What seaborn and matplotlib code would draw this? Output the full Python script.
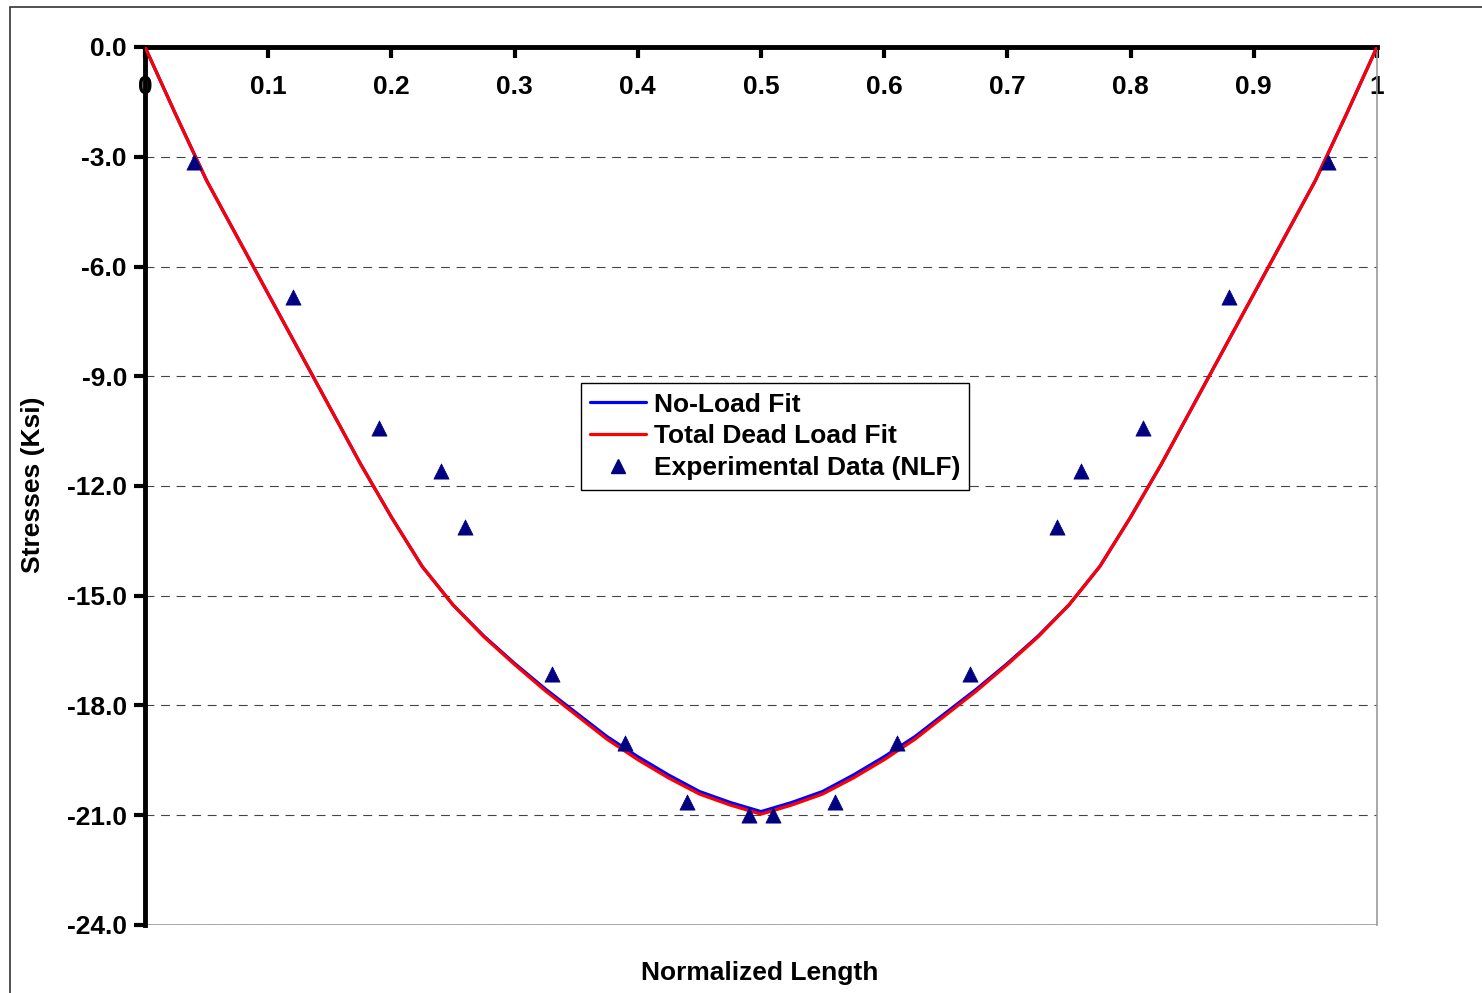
import numpy as np
import pandas as pd
import matplotlib
matplotlib.use("Agg")
import matplotlib.pyplot as plt
from matplotlib.patches import Rectangle
from matplotlib.lines import Line2D
import seaborn as sns

# ---- data ----
fit_x = [0.0, 0.025, 0.05, 0.075, 0.1, 0.125, 0.15, 0.175, 0.2, 0.225, 0.25,
         0.275, 0.3, 0.325, 0.35, 0.375, 0.4, 0.425, 0.45, 0.475, 0.5,
         0.525, 0.55, 0.575, 0.6, 0.625, 0.65, 0.675, 0.7, 0.725, 0.75,
         0.775, 0.8, 0.825, 0.85, 0.875, 0.9, 0.925, 0.95, 0.975, 1.0]
no_load_fit = [0.0, -1.85, -3.65, -5.2, -6.75, -8.3, -9.85, -11.4, -12.85, -14.2, -15.25,
               -16.1, -16.85, -17.55, -18.2, -18.85, -19.4, -19.9, -20.35, -20.65, -20.9,
               -20.65, -20.35, -19.9, -19.4, -18.85, -18.2, -17.55, -16.85, -16.1, -15.25,
               -14.2, -12.85, -11.4, -9.85, -8.3, -6.75, -5.2, -3.65, -1.85, 0.0]
dead_load_fit = [0.0, -1.85, -3.65, -5.2, -6.75, -8.3, -9.85, -11.4, -12.85, -14.2, -15.25,
                 -16.12, -16.88, -17.6, -18.26, -18.92, -19.48, -19.98, -20.42, -20.72, -20.97,
                 -20.72, -20.42, -19.98, -19.48, -18.92, -18.26, -17.6, -16.88, -16.12, -15.25,
                 -14.2, -12.85, -11.4, -9.85, -8.3, -6.75, -5.2, -3.65, -1.85, 0.0]
exp_x = [0.04, 0.12, 0.19, 0.24, 0.26, 0.33, 0.39, 0.44, 0.49,
         0.51, 0.56, 0.61, 0.67, 0.74, 0.76, 0.81, 0.88, 0.96]
exp_y = [-3.14, -6.83, -10.42, -11.59, -13.12, -17.14, -19.03, -20.64, -21.0,
         -21.0, -20.64, -19.03, -17.14, -13.12, -11.59, -10.42, -6.83, -3.14]
x_ticks = [0, 0.1, 0.2, 0.3, 0.4, 0.5, 0.6, 0.7, 0.8, 0.9, 1]
x_ticklabels = ["0", "0.1", "0.2", "0.3", "0.4", "0.5", "0.6", "0.7", "0.8", "0.9", "1"]
y_ticks = [0.0, -3.0, -6.0, -9.0, -12.0, -15.0, -18.0, -21.0, -24.0]

sns.set_style("white")
plt.rcParams['font.family'] = ['Liberation Sans', 'DejaVu Sans']
plt.rcParams['font.weight'] = 'bold'
plt.rcParams['text.color'] = 'black'
plt.rcParams['xtick.color'] = 'black'
plt.rcParams['ytick.color'] = 'black'
plt.rcParams['axes.labelcolor'] = 'black'

FS = 19

fig = plt.figure(figsize=(14.82, 9.93), dpi=100)
ax = fig.add_axes([145/1482, (993-925)/993, (1377-145)/1482, (925-47)/993])

fits = pd.DataFrame({"x": fit_x, "no": no_load_fit, "dead": dead_load_fit})
exp = pd.DataFrame({"x": exp_x, "y": exp_y})

sns.lineplot(data=fits, x="x", y="no", ax=ax, color="#0000FF", lw=2.3, sort=False, zorder=3)
sns.lineplot(data=fits, x="x", y="dead", ax=ax, color="#FF0000", lw=2.3, sort=False, zorder=4)
sns.scatterplot(data=exp, x="x", y="y", ax=ax, marker="^", s=120, color="#000080",
                edgecolor="#000080", linewidth=0.5, zorder=5)

ax.set_xlim(0, 1)
ax.set_ylim(-24, 0)
ax.set_xticks(x_ticks)
ax.set_xticklabels(x_ticklabels)
ax.set_yticks(y_ticks)
ax.set_yticklabels([f"{v:.1f}" for v in y_ticks])

ax.spines['bottom'].set_position(('data', 0))
ax.spines['bottom'].set_linewidth(3.5)
ax.spines['bottom'].set_color('black')
ax.spines['left'].set_linewidth(3.5)
ax.spines['left'].set_color('black')
ax.spines['top'].set_visible(False)
ax.spines['right'].set_color('#999999')
ax.spines['right'].set_linewidth(1.2)
ax.axhline(-24, color='#999999', lw=1.2, zorder=2)

ax.tick_params(axis='x', direction='out', length=8, width=3, pad=12, labelsize=FS, bottom=True,
               colors='black')
ax.tick_params(axis='y', direction='out', length=8, width=3, pad=5, labelsize=FS, left=True,
               colors='black')
for lab in ax.get_xticklabels() + ax.get_yticklabels():
    lab.set_fontweight('bold')

ax.yaxis.grid(True, linestyle=(0, (8, 6)), color='#444444', lw=0.8)
ax.xaxis.grid(False)
ax.set_axisbelow(True)

ax.set_xlabel("")
ax.set_ylabel("")
fig.text(760/1482, 1 - 973/993, "Normalized Length", ha='center', va='center',
         fontsize=FS, fontweight='bold', color='black')
fig.text(33/1482, 1 - 485/993, "Stresses (Ksi)", ha='center', va='center',
         fontsize=FS, fontweight='bold', rotation=90, color='black')

handles = [Line2D([], [], color="#0000FF", lw=2.3),
           Line2D([], [], color="#FF0000", lw=2.3),
           Line2D([], [], color="#000080", marker="^", ls="none", markersize=10)]
leg = ax.legend(handles, ["No-Load Fit", "Total Dead Load Fit", "Experimental Data (NLF)"],
                loc='upper left', bbox_to_anchor=(0.354, 0.617), borderaxespad=0,
                frameon=True, fancybox=False, framealpha=1, edgecolor='black',
                handlelength=2.1, handletextpad=0.3, borderpad=0.35, labelspacing=0.3,
                prop={'weight': 'bold', 'size': FS})
leg.get_frame().set_linewidth(1.0)
for t in leg.get_texts():
    t.set_color('black')

fig.patches.append(Rectangle((10/1482, -0.01), 1.0, (993-7)/993 + 0.01, transform=fig.transFigure,
                             fill=False, edgecolor='#333333', lw=1.2))

fig.savefig("out.png", dpi=100)
